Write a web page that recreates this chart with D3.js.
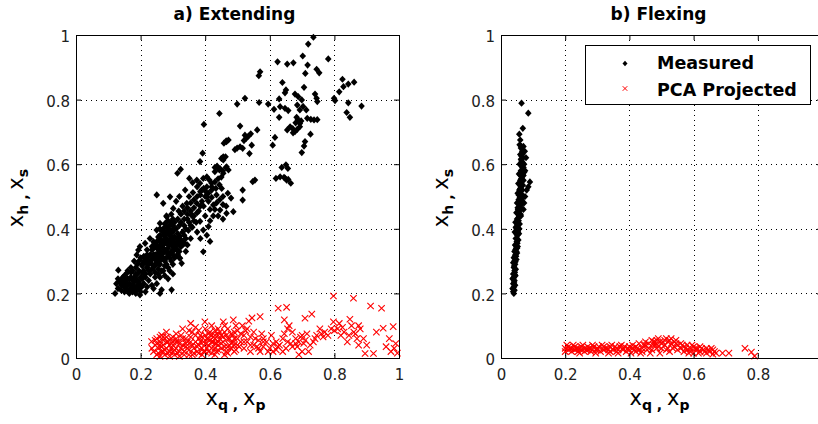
<!DOCTYPE html>
<html><head><meta charset="utf-8">
<script src="https://cdn.jsdelivr.net/npm/d3@7"></script>
<style>body{margin:0;background:#fff}svg{display:block}text{font-family:"DejaVu Sans",sans-serif}</style>
</head><body><svg id="chart" width="818" height="424"></svg>
<script>
// Extending trial: measured (x_q,x_h) pairs
const extMeasured = [
[0.735,0.993],[0.719,0.972],[0.702,0.935],[0.781,0.926],[0.624,0.917],[0.654,0.910],[0.673,0.914],[0.717,0.907],[0.745,0.894],[0.753,0.883],[0.710,0.881],[0.570,0.886],[0.566,0.874],[0.825,0.863],[0.861,0.854],[0.843,0.848],[0.828,0.840],[0.815,0.824],[0.639,0.853],[0.706,0.838],[0.650,0.830],[0.647,0.821],[0.678,0.817],[0.688,0.809],[0.699,0.799],[0.740,0.817],[0.745,0.804],[0.747,0.794],[0.799,0.804],[0.802,0.797],[0.843,0.790],[0.884,0.780],[0.838,0.760],[0.848,0.745],[0.523,0.804],[0.499,0.786],[0.567,0.791],[0.595,0.786],[0.629,0.802],[0.613,0.770],[0.632,0.778],[0.647,0.773],[0.657,0.766],[0.685,0.783],[0.693,0.768],[0.703,0.779],[0.713,0.768],[0.629,0.745],[0.444,0.757],[0.683,0.745],[0.687,0.738],[0.697,0.734],[0.680,0.728],[0.693,0.726],[0.716,0.742],[0.727,0.739],[0.737,0.737],[0.747,0.738],[0.663,0.716],[0.654,0.706],[0.671,0.710],[0.678,0.701],[0.685,0.708],[0.672,0.697],[0.693,0.716],[0.726,0.693],[0.616,0.683],[0.609,0.659],[0.706,0.656],[0.699,0.636],[0.508,0.718],[0.561,0.706],[0.396,0.723],[0.534,0.687],[0.527,0.680],[0.520,0.673],[0.541,0.694],[0.544,0.659],[0.537,0.633],[0.508,0.654],[0.499,0.650],[0.492,0.645],[0.472,0.675],[0.465,0.672],[0.458,0.665],[0.456,0.623],[0.450,0.618],[0.392,0.634],[0.384,0.608],[0.437,0.594],[0.446,0.586],[0.454,0.579],[0.464,0.589],[0.472,0.582],[0.430,0.590],[0.650,0.598],[0.637,0.590],[0.656,0.587],[0.632,0.561],[0.647,0.557],[0.657,0.553],[0.619,0.556],[0.644,0.559],[0.652,0.551],[0.665,0.541],[0.709,0.670],[0.516,0.649],[0.523,0.690],[0.466,0.592],[0.463,0.623],[0.456,0.613],[0.466,0.670],
[0.324,0.584],[0.314,0.572],[0.351,0.556],[0.361,0.543],[0.374,0.551],[0.384,0.541],[0.394,0.556],[0.405,0.561],[0.413,0.551],[0.420,0.541],[0.405,0.530],[0.389,0.520],[0.402,0.515],[0.420,0.520],[0.433,0.525],[0.444,0.536],[0.451,0.525],[0.456,0.572],[0.444,0.582],[0.436,0.592],[0.430,0.577],[0.547,0.546],[0.554,0.551],[0.516,0.520],[0.343,0.479],[0.358,0.443],[0.374,0.479],[0.384,0.423],[0.394,0.396],[0.394,0.329],[0.415,0.361],[0.405,0.499],[0.425,0.474],[0.446,0.458],[0.466,0.448],[0.487,0.453],[0.516,0.489],[0.410,0.407],[0.250,0.505],[0.270,0.479],[0.301,0.463],[0.291,0.499],[0.281,0.437],[0.260,0.417],[0.250,0.396],[0.322,0.377],[0.337,0.355],[0.322,0.309],[0.327,0.293],[0.296,0.211],[0.265,0.211],[0.312,0.334],
[0.350,0.500],[0.362,0.512],[0.330,0.470],[0.318,0.455],[0.345,0.430],[0.365,0.465],[0.380,0.455],[0.395,0.470],[0.410,0.485],[0.420,0.497],[0.435,0.505],[0.455,0.500],[0.470,0.510],[0.480,0.495],[0.430,0.460],[0.440,0.440],[0.455,0.430],[0.465,0.470],[0.372,0.420],[0.360,0.405],[0.348,0.395],[0.335,0.410],[0.305,0.420],[0.295,0.445],[0.310,0.485],[0.320,0.500],[0.338,0.520],[0.375,0.530],[0.385,0.505],[0.400,0.440],[0.415,0.425],[0.405,0.380],[0.385,0.370],[0.375,0.390],
[0.315,0.43],[0.325,0.445],[0.335,0.455],[0.345,0.465],[0.355,0.48],[0.365,0.49],[0.375,0.50],[0.385,0.515],[0.395,0.525],[0.345,0.445],[0.355,0.455],[0.365,0.44],[0.375,0.45],[0.385,0.47],[0.39,0.485],[0.40,0.50],[0.41,0.51],[0.42,0.53],[0.43,0.545],[0.44,0.555],[0.45,0.56],[0.415,0.46],[0.425,0.44],[0.435,0.48],[0.445,0.49],[0.455,0.475],[0.325,0.42],[0.335,0.43],[0.355,0.41],[0.365,0.425],
[0.22,0.30],[0.23,0.32],[0.24,0.34],[0.25,0.36],[0.26,0.38],[0.27,0.40],[0.28,0.42],[0.29,0.41],[0.30,0.39],[0.31,0.37],[0.32,0.35],[0.30,0.33],[0.29,0.31],[0.28,0.29],[0.27,0.27],[0.26,0.29],[0.25,0.31],[0.24,0.28],[0.23,0.26],[0.22,0.28],[0.21,0.27],[0.26,0.33],[0.27,0.35],[0.28,0.37],[0.29,0.35],[0.27,0.31],[0.28,0.33],[0.25,0.34],[0.24,0.32],[0.26,0.36],[0.27,0.38],[0.29,0.38],[0.30,0.36],[0.31,0.34],[0.31,0.40],[0.33,0.39],[0.32,0.41],[0.30,0.43],[0.28,0.39],[0.25,0.29],[0.23,0.30],[0.22,0.32],[0.21,0.30],[0.24,0.36],[0.26,0.40],[0.28,0.44],[0.33,0.36],[0.34,0.33],[0.32,0.31],[0.30,0.29],[0.29,0.27],[0.275,0.255],[0.26,0.25],[0.285,0.245],[0.30,0.26],[0.235,0.345],[0.255,0.325],[0.265,0.345],[0.275,0.365],[0.285,0.355],[0.295,0.375],[0.305,0.355],[0.265,0.305],[0.245,0.305],[0.255,0.275],[0.315,0.385],[0.325,0.365],[0.335,0.38],[0.34,0.40],[0.35,0.42],[0.36,0.44],[0.355,0.37],[0.345,0.35],[0.30,0.41],
[0.205,0.285],[0.215,0.295],[0.225,0.315],[0.235,0.335],[0.245,0.355],[0.255,0.375],[0.265,0.395],[0.275,0.415],[0.285,0.425],[0.295,0.395],[0.305,0.375],[0.315,0.36],[0.325,0.345],[0.315,0.32],[0.305,0.31],[0.295,0.30],[0.285,0.28],[0.275,0.285],[0.265,0.27],[0.255,0.26],[0.245,0.265],[0.235,0.275],[0.225,0.27],[0.215,0.26],[0.225,0.29],[0.235,0.305],[0.245,0.32],[0.255,0.34],[0.265,0.36],[0.275,0.38],[0.285,0.40],[0.295,0.42],[0.305,0.40],[0.285,0.385],[0.275,0.335],[0.285,0.32],[0.295,0.33],[0.305,0.34],[0.295,0.355],[0.285,0.34],[0.275,0.30],[0.265,0.32],[0.255,0.30],[0.245,0.29],[0.235,0.29],[0.225,0.30],[0.215,0.31],[0.25,0.35],[0.26,0.37],[0.27,0.39],[0.28,0.405],[0.29,0.39],[0.30,0.37],[0.31,0.35],[0.32,0.33],[0.31,0.315],[0.29,0.32],[0.27,0.325],[0.26,0.315],[0.25,0.32],[0.24,0.31],[0.27,0.34],[0.28,0.355],[0.29,0.365],[0.30,0.345],[0.26,0.345],[0.27,0.36],[0.28,0.31],[0.30,0.32],[0.32,0.37],[0.33,0.35],[0.34,0.37],
[0.121,0.200],[0.131,0.272],[0.136,0.236],[0.157,0.262],[0.172,0.211],[0.188,0.211],[0.198,0.195],[0.203,0.220],[0.188,0.319],[0.193,0.334],[0.198,0.345],[0.214,0.355],[0.229,0.370],[0.14,0.21],[0.15,0.22],[0.16,0.21],[0.165,0.23],[0.17,0.25],[0.175,0.24],[0.18,0.22],[0.185,0.26],[0.19,0.24],[0.195,0.27],[0.20,0.25],[0.205,0.29],[0.21,0.23],[0.215,0.25],[0.155,0.24],[0.145,0.25],[0.16,0.27],[0.17,0.28],[0.18,0.30],[0.19,0.29],[0.20,0.31],[0.165,0.20],[0.175,0.205],[0.185,0.20],[0.15,0.205],[0.195,0.215],[0.125,0.23],[0.13,0.245],[0.215,0.205],[0.225,0.24],[0.22,0.22],[0.235,0.225],[0.25,0.23],[0.24,0.215],[0.26,0.20],[0.245,0.25],
[0.13,0.215],[0.14,0.225],[0.145,0.235],[0.15,0.255],[0.155,0.215],[0.16,0.225],[0.165,0.245],[0.17,0.215],[0.175,0.225],[0.18,0.235],[0.185,0.245],[0.19,0.225],[0.195,0.235],[0.20,0.225],[0.205,0.245],[0.21,0.26],[0.17,0.265],[0.18,0.25],[0.19,0.26],[0.16,0.245],[0.15,0.23],[0.14,0.24],[0.175,0.27],[0.185,0.28],[0.195,0.30],[0.21,0.315],[0.22,0.335],[0.205,0.265],[0.20,0.205],[0.18,0.21]
];

// Extending trial: PCA projected pairs
const extProjected = [
[0.797,0.192],[0.859,0.185],[0.912,0.161],[0.946,0.154],[0.626,0.154],[0.652,0.157],[0.570,0.128],[0.545,0.124],[0.535,0.114],[0.709,0.123],[0.730,0.136],[0.645,0.118],[0.487,0.118],[0.456,0.112],[0.399,0.112],[0.355,0.107],[0.797,0.112],[0.815,0.107],[0.848,0.120],[0.853,0.100],[0.875,0.100],[0.951,0.092],[0.982,0.097],[0.86,0.08],[0.87,0.06],[0.88,0.09],[0.83,0.08],[0.82,0.07],[0.84,0.05],[0.80,0.085],[0.77,0.08],[0.76,0.075],[0.755,0.09],[0.74,0.06],[0.725,0.04],[0.71,0.055],[0.70,0.07],[0.69,0.05],[0.68,0.06],[0.67,0.08],[0.66,0.10],[0.655,0.09],[0.645,0.075],[0.64,0.06],[0.63,0.04],[0.62,0.025],[0.61,0.02],[0.60,0.03],[0.59,0.05],[0.58,0.06],[0.575,0.075],[0.565,0.055],[0.56,0.035],[0.55,0.08],[0.54,0.065],[0.53,0.09],[0.52,0.07],[0.515,0.10],[0.51,0.05],[0.50,0.085],[0.495,0.10],[0.49,0.06],[0.48,0.075],[0.475,0.04],[0.47,0.09],
[0.895,0.014],[0.921,0.014],[0.99,0.045],[0.985,0.03],[0.975,0.02],[0.97,0.06],[0.995,0.015],[0.96,0.035],[0.90,0.04],[0.89,0.06],[0.93,0.08],[0.72,0.02],[0.735,0.05],[0.65,0.03],[0.665,0.045],[0.685,0.035],[0.70,0.02],[0.69,0.01],[0.62,0.05],[0.605,0.07],
[0.234,0.051],[0.265,0.071],[0.24,0.02],[0.245,0.04],[0.25,0.01],[0.255,0.03],[0.26,0.05],[0.265,0.02],[0.27,0.04],[0.275,0.01],[0.28,0.03],[0.285,0.05],[0.29,0.02],[0.295,0.06],[0.30,0.04],[0.305,0.01],[0.31,0.03],[0.315,0.05],[0.32,0.02],[0.325,0.07],[0.33,0.04],[0.335,0.02],[0.34,0.06],[0.345,0.03],[0.35,0.01],[0.355,0.05],[0.36,0.08],[0.365,0.03],[0.37,0.05],[0.375,0.02],[0.38,0.04],[0.385,0.07],[0.39,0.03],[0.395,0.05],[0.40,0.02],[0.405,0.06],[0.41,0.04],[0.415,0.08],[0.42,0.03],[0.425,0.05],[0.43,0.07],[0.435,0.02],[0.44,0.04],[0.445,0.06],[0.45,0.03],[0.455,0.05],[0.46,0.08],[0.465,0.02],[0.47,0.06],[0.48,0.03],[0.485,0.05],[0.49,0.02],[0.50,0.04],[0.27,0.065],[0.28,0.08],[0.31,0.075],[0.33,0.09],[0.35,0.085],[0.37,0.095],[0.38,0.085],[0.40,0.09],[0.42,0.10],[0.44,0.09],[0.46,0.10],[0.26,0.005],[0.29,0.005],[0.32,0.005],[0.36,0.01],[0.39,0.01],[0.43,0.01],[0.46,0.01],[0.25,0.06],[0.30,0.065],[0.34,0.045],[0.38,0.06],[0.41,0.02],[0.43,0.045],[0.45,0.07],[0.47,0.035],[0.49,0.08],[0.52,0.03],[0.53,0.05],[0.54,0.02],[0.55,0.04],[0.57,0.02],[0.58,0.035],
[0.41,0.06],[0.42,0.07],[0.43,0.06],[0.44,0.07],[0.42,0.05],[0.43,0.03],[0.44,0.05],[0.40,0.07],[0.26,0.04],[0.27,0.02],[0.28,0.05],[0.29,0.04],[0.30,0.02],[0.31,0.05],
[0.235,0.03],[0.245,0.055],[0.25,0.045],[0.255,0.015],[0.26,0.065],[0.265,0.035],[0.27,0.055],[0.275,0.025],[0.28,0.065],[0.285,0.015],[0.29,0.055],[0.295,0.03],[0.30,0.05],[0.305,0.025],[0.31,0.06],[0.315,0.015],[0.32,0.045],[0.325,0.03],[0.33,0.06],[0.335,0.01],[0.34,0.035],[0.345,0.05],[0.35,0.025],[0.355,0.065],[0.36,0.04],[0.365,0.015],[0.37,0.07],[0.375,0.035],[0.38,0.015],[0.385,0.05],[0.39,0.065],[0.395,0.02],[0.40,0.045],[0.405,0.03],[0.41,0.075],[0.415,0.055],[0.42,0.015],[0.425,0.065],[0.43,0.085],[0.435,0.045],[0.44,0.025],[0.445,0.08],[0.45,0.045],[0.455,0.065],[0.46,0.035],[0.465,0.07],[0.47,0.015],[0.475,0.06],[0.48,0.045],[0.485,0.07],[0.49,0.04],[0.495,0.025],[0.50,0.06],[0.505,0.035],[0.51,0.075],[0.52,0.05],[0.525,0.085],[0.54,0.04],[0.555,0.06],[0.565,0.03],[0.58,0.05],[0.595,0.02],[0.61,0.045],[0.625,0.035],[0.64,0.02],[0.655,0.05],[0.67,0.035],[0.68,0.045],[0.695,0.065],[0.705,0.045],[0.715,0.075],[0.745,0.07],[0.765,0.065],[0.78,0.07],[0.79,0.09],[0.81,0.09],[0.825,0.095],[0.845,0.07],[0.865,0.075],[0.875,0.04]
];

// Flexing trial: measured pairs
const flexMeasured = [
[0.040,0.200],[0.038,0.205],[0.042,0.21],[0.036,0.215],[0.040,0.22],[0.044,0.225],[0.038,0.23],[0.042,0.24],[0.036,0.245],[0.040,0.25],[0.045,0.255],[0.038,0.26],[0.042,0.27],[0.046,0.275],[0.040,0.28],[0.044,0.29],[0.038,0.295],[0.042,0.30],[0.048,0.305],[0.040,0.31],[0.045,0.32],[0.050,0.325],[0.042,0.33],[0.047,0.34],[0.052,0.345],[0.044,0.35],[0.049,0.36],[0.054,0.365],[0.046,0.37],[0.051,0.38],[0.056,0.385],[0.043,0.39],[0.048,0.40],[0.053,0.41],[0.058,0.415],[0.045,0.42],[0.050,0.43],[0.056,0.44],[0.061,0.445],[0.048,0.45],[0.053,0.46],[0.058,0.47],[0.063,0.475],[0.050,0.48],[0.055,0.49],[0.060,0.50],[0.066,0.505],[0.052,0.51],[0.057,0.52],[0.062,0.53],[0.068,0.535],[0.054,0.54],[0.060,0.55],[0.065,0.56],[0.070,0.565],[0.056,0.57],[0.062,0.58],[0.067,0.59],[0.058,0.60],[0.064,0.61],[0.069,0.62],[0.060,0.63],[0.066,0.64],[0.062,0.65],[0.058,0.66],[0.057,0.693],[0.068,0.711],[0.085,0.758],[0.064,0.789],
[0.085,0.53],[0.090,0.545],[0.080,0.52],[0.075,0.50],[0.072,0.48],[0.070,0.46],[0.075,0.58],[0.072,0.60],[0.078,0.62],
[0.041,0.235],[0.043,0.265],[0.047,0.315],[0.045,0.335],[0.051,0.355],[0.049,0.39],[0.052,0.395],[0.055,0.425],[0.057,0.455],[0.059,0.485],[0.061,0.515],[0.063,0.545],[0.065,0.575],[0.067,0.605],[0.064,0.625],[0.055,0.435],[0.052,0.465],[0.046,0.405],[0.060,0.465],[0.064,0.49],[0.066,0.52],[0.070,0.55],[0.072,0.575],[0.074,0.64],[0.070,0.655],[0.060,0.675],
[0.039,0.212],[0.041,0.228],[0.039,0.248],[0.043,0.258],[0.041,0.285],[0.045,0.298],[0.043,0.315],[0.048,0.33],[0.046,0.348],[0.050,0.37],[0.048,0.385],[0.053,0.39],[0.051,0.415],[0.054,0.445],[0.056,0.46],[0.058,0.495],[0.055,0.505],[0.060,0.525],[0.058,0.54],[0.063,0.555],[0.061,0.565],[0.064,0.595],[0.062,0.615],[0.066,0.63],[0.064,0.655],[0.068,0.57],[0.070,0.59],[0.066,0.48],[0.068,0.50],[0.062,0.44],[0.057,0.40],[0.050,0.34]
];

// Flexing trial: PCA projected pairs
const flexProjected = [
[0.20,0.03],[0.20,0.02],[0.21,0.035],[0.21,0.025],[0.22,0.03],[0.22,0.02],[0.23,0.035],[0.23,0.025],[0.24,0.03],[0.24,0.02],[0.25,0.035],[0.25,0.025],[0.26,0.03],[0.26,0.02],[0.27,0.035],[0.27,0.025],[0.28,0.03],[0.28,0.02],[0.29,0.035],[0.30,0.025],[0.30,0.03],[0.31,0.02],[0.32,0.035],[0.32,0.025],[0.33,0.03],[0.34,0.02],[0.34,0.035],[0.35,0.025],[0.36,0.03],[0.36,0.02],[0.37,0.035],[0.38,0.025],[0.38,0.03],[0.39,0.02],[0.40,0.035],[0.40,0.025],[0.41,0.03],[0.41,0.04],[0.42,0.02],[0.42,0.035],[0.43,0.025],[0.43,0.045],[0.44,0.03],[0.44,0.02],[0.45,0.04],[0.45,0.05],[0.46,0.03],[0.46,0.045],[0.47,0.055],[0.47,0.025],[0.48,0.04],[0.48,0.05],[0.49,0.035],[0.49,0.06],[0.50,0.045],[0.50,0.03],[0.51,0.055],[0.51,0.04],[0.52,0.05],[0.52,0.03],[0.53,0.045],[0.53,0.06],[0.54,0.035],[0.54,0.05],[0.55,0.04],[0.55,0.025],[0.56,0.045],[0.56,0.03],[0.57,0.035],[0.57,0.02],[0.58,0.04],[0.58,0.025],[0.59,0.03],[0.59,0.02],[0.60,0.035],[0.60,0.015],[0.61,0.025],[0.61,0.03],[0.62,0.02],[0.62,0.035],[0.63,0.025],[0.64,0.015],[0.64,0.03],[0.65,0.02],[0.66,0.025],[0.66,0.012],[0.67,0.015],[0.69,0.015],[0.71,0.015],[0.76,0.030],[0.78,0.018],[0.79,0.006],
[0.205,0.04],[0.225,0.04],[0.255,0.04],[0.285,0.04],[0.315,0.04],[0.345,0.04],[0.375,0.04],[0.405,0.015],[0.435,0.015],[0.465,0.015],[0.495,0.015],[0.525,0.02],[0.245,0.015],[0.295,0.015],[0.335,0.015],[0.365,0.015],
[0.215,0.03],[0.235,0.03],[0.265,0.025],[0.275,0.03],[0.295,0.025],[0.305,0.035],[0.325,0.03],[0.335,0.025],[0.355,0.035],[0.365,0.025],[0.385,0.035],[0.395,0.03],[0.415,0.025],[0.425,0.03],[0.445,0.04],[0.455,0.025],[0.475,0.04],[0.485,0.03],[0.505,0.05],[0.515,0.025],[0.535,0.03],[0.545,0.045],[0.565,0.04],[0.575,0.03],[0.585,0.015],[0.595,0.04],[0.605,0.03],[0.615,0.015],[0.625,0.03],[0.635,0.02],[0.645,0.025],[0.655,0.03],[0.665,0.02],[0.495,0.05],[0.485,0.055],[0.515,0.06],[0.475,0.05],[0.525,0.055],[0.545,0.055]
];

const xTickValues = [0, 0.2, 0.4, 0.6, 0.8, 1];
const yTickValues = [0, 0.2, 0.4, 0.6, 0.8, 1];
const panelTitles = ["a) Extending", "b) Flexing"];
const legendLabels = ["Measured", "PCA Projected"];
const xLabelParts = [["x", 0], ["q", 1], [" , ", 1], ["x", 0], ["p", 1]];
const yLabelParts = [["x", 0], ["h", 1], [" , ", 1], ["x", 0], ["s", 1]];

const svg = d3.select("#chart");
svg.append("rect").attr("width", 818).attr("height", 424).attr("fill", "#fff");

const plotTop = 35, plotBottom = 358;
const panels = [
  { left: 76, right: 399, title: panelTitles[0], measured: extMeasured, projected: extProjected, showLastX: true, legend: false },
  { left: 501, right: 822, title: panelTitles[1], measured: flexMeasured, projected: flexProjected, showLastX: false, legend: true }
];

const diamond = (w, h) => `M0,${-h}L${w},0L0,${h}L${-w},0Z`;
const cross = s => `M${-s},${-s}L${s},${s}M${-s},${s}L${s},${-s}`;

function addLabel(g, parts) {
  const t = g.append("text").attr("text-anchor", "middle").attr("fill", "#000")
    .attr("xml:space", "preserve");
  let level = 0;
  parts.forEach(([str, sub]) => {
    const ts = t.append("tspan").text(str)
      .attr("font-size", sub ? 14 : 21)
      .attr("font-weight", sub ? "bold" : "normal");
    const target = sub ? 5 : 0;
    if (target !== level) { ts.attr("dy", target - level); level = target; }
  });
  return t;
}

panels.forEach(p => {
  const x = d3.scaleLinear().domain([0, 1]).range([p.left, p.right]);
  const y = d3.scaleLinear().domain([0, 1]).range([plotBottom, plotTop]);
  const g = svg.append("g");

  // dotted grid
  const grid = g.append("g").attr("stroke", "#000").attr("stroke-width", 1).attr("stroke-dasharray", "1,4");
  grid.selectAll(".gx").data(xTickValues.filter(v => v > 0 && v < 1)).join("line")
    .attr("x1", d => Math.round(x(d)) + 0.5).attr("x2", d => Math.round(x(d)) + 0.5)
    .attr("y1", plotTop).attr("y2", plotBottom);
  grid.selectAll(".gy").data(yTickValues.filter(v => v > 0 && v < 1)).join("line")
    .attr("y1", d => Math.round(y(d)) + 0.5).attr("y2", d => Math.round(y(d)) + 0.5)
    .attr("x1", p.left).attr("x2", p.right);

  // measured points
  g.append("g").selectAll("path").data(p.measured).join("path")
    .attr("d", diamond(3.3, 3.6))
    .attr("transform", d => `translate(${x(d[0])},${y(d[1])})`)
    .attr("fill", "#000");

  // projected points
  g.append("g").selectAll("path").data(p.projected).join("path")
    .attr("d", cross(3.2))
    .attr("transform", d => `translate(${x(d[0])},${y(d[1])})`)
    .attr("fill", "none").attr("stroke", "#ff0000").attr("stroke-width", 1.1);

  // axes with inward ticks
  const fmt = d => (d === 1 && !p.showLastX) ? "" : String(d);
  const axB = g.append("g").attr("transform", `translate(0,${plotBottom})`)
    .call(d3.axisBottom(x).tickValues(xTickValues).tickSizeInner(-5).tickSizeOuter(0).tickPadding(11).tickFormat(fmt));
  const axT = g.append("g").attr("transform", `translate(0,${plotTop})`)
    .call(d3.axisTop(x).tickValues(xTickValues).tickSizeInner(-5).tickSizeOuter(0).tickFormat(""));
  const axL = g.append("g").attr("transform", `translate(${p.left},0)`)
    .call(d3.axisLeft(y).tickValues(yTickValues).tickSizeInner(-5).tickSizeOuter(0).tickPadding(6).tickFormat(d => String(d)));
  const axR = g.append("g").attr("transform", `translate(${p.right},0)`)
    .call(d3.axisRight(y).tickValues(yTickValues).tickSizeInner(-5).tickSizeOuter(0).tickFormat(""));
  [axB, axT, axL, axR].forEach(a => {
    a.select(".domain").remove();
    a.selectAll("line").attr("stroke", "#000");
    a.selectAll("text").attr("font-family", "DejaVu Sans").attr("font-size", 15).attr("fill", "#222");
  });
  axL.selectAll("text").attr("dy", "0.45em");

  // axes box
  g.append("rect").attr("x", p.left + 0.5).attr("y", plotTop + 0.5)
    .attr("width", p.right - p.left).attr("height", plotBottom - plotTop)
    .attr("fill", "none").attr("stroke", "#000").attr("stroke-width", 1);

  // title
  g.append("text").attr("x", (p.left + p.right) / 2 - 3).attr("y", 20)
    .attr("text-anchor", "middle").attr("font-size", 17).attr("font-weight", "bold")
    .attr("fill", "#000").text(p.title);

  // axis labels
  addLabel(g, xLabelParts).attr("x", (p.left + p.right) / 2 - 2).attr("y", 405);
  addLabel(g, yLabelParts).attr("transform", `translate(${p.left - 53},198) rotate(-90)`);

  // legend
  if (p.legend) {
    const lg = g.append("g");
    lg.append("rect").attr("x", 585.5).attr("y", 45.5).attr("width", 225).attr("height", 59)
      .attr("fill", "#fff").attr("stroke", "#000").attr("stroke-width", 1);
    lg.append("path").attr("d", diamond(2.5, 2.8)).attr("transform", "translate(625,63.5)").attr("fill", "#000");
    lg.append("path").attr("d", cross(2.3)).attr("transform", "translate(625,88.5)")
      .attr("fill", "none").attr("stroke", "#ff0000").attr("stroke-width", 1);
    lg.selectAll("text").data(legendLabels).join("text")
      .attr("x", 657).attr("y", (d, i) => i === 0 ? 68.5 : 96)
      .attr("font-size", 17.5).attr("font-weight", "bold").attr("fill", "#000").text(d => d);
  }
});
</script>
</body></html>
